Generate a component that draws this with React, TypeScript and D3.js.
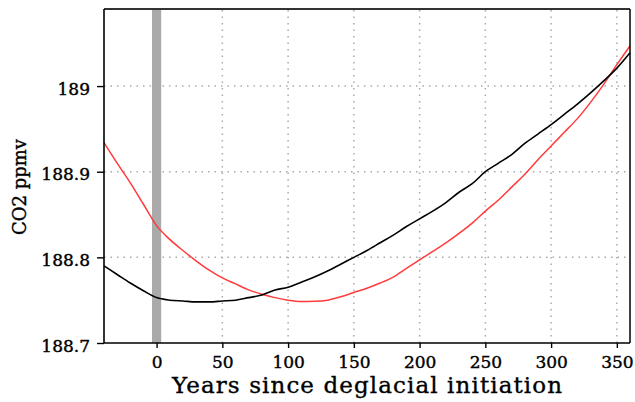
import React, { useEffect, useRef } from 'react';
import * as d3 from 'd3';

// years since deglacial initiation
const years = [-40, -30, -20, -10, 0, 10, 20, 30, 40, 50, 60, 70, 80, 90, 100, 110, 120, 130, 140, 150, 160, 170, 180, 190, 200, 210, 220, 230, 240, 250, 260, 270, 280, 290, 300, 310, 320, 330, 340, 350, 360];

// black curve (CO2 ppmv)
const co2Black = [188.790, 188.780, 188.770, 188.761, 188.753, 188.750, 188.749, 188.748, 188.748, 188.749, 188.750, 188.753, 188.756, 188.762, 188.765, 188.771, 188.777, 188.784, 188.792, 188.800, 188.808, 188.817, 188.826, 188.836, 188.845, 188.854, 188.864, 188.876, 188.886, 188.900, 188.910, 188.920, 188.933, 188.944, 188.955, 188.967, 188.979, 188.992, 189.006, 189.021, 189.039];

// red curve (CO2 ppmv)
const co2Red = [188.934, 188.910, 188.887, 188.862, 188.837, 188.821, 188.808, 188.796, 188.785, 188.776, 188.769, 188.762, 188.757, 188.753, 188.750, 188.7485, 188.7487, 188.750, 188.754, 188.759, 188.764, 188.770, 188.777, 188.787, 188.797, 188.807, 188.817, 188.828, 188.840, 188.854, 188.867, 188.882, 188.897, 188.914, 188.930, 188.946, 188.962, 188.981, 189.002, 189.025, 189.047];

const xTicks = [0, 50, 100, 150, 200, 250, 300, 350];
const yTicks = [188.7, 188.8, 188.9, 189];
const band = [-3.5, 3.5];

const App: React.FC = () => {
  const svgRef = useRef<SVGSVGElement | null>(null);

  useEffect(() => {
    if (!svgRef.current) return;
    const svg = d3.select(svgRef.current);
    svg.selectAll('*').remove();

    const width = 635;
    const height = 402;
    const margin = { top: 9, right: 5, bottom: 59, left: 104 };
    const font = '"DejaVu Serif", serif';

    const x = d3.scaleLinear()
      .domain([-40, 360])
      .range([margin.left, width - margin.right]);
    const y = d3.scaleLinear()
      .domain([188.7, 189.09])
      .range([height - margin.bottom, margin.top]);

    const [x0, x1] = x.range();
    const [yb, yt] = y.range();

    // dotted grid
    const grid = svg.append('g')
      .attr('stroke', '#aaa')
      .attr('stroke-width', 1.5)
      .attr('stroke-dasharray', '1.5,5');
    grid.selectAll('line.v')
      .data(xTicks)
      .join('line')
        .attr('x1', d => x(d)).attr('x2', d => x(d))
        .attr('y1', yb).attr('y2', yt);
    grid.selectAll('line.h')
      .data(yTicks.slice(1))
      .join('line')
        .attr('x1', x0).attr('x2', x1)
        .attr('y1', d => y(d)).attr('y2', d => y(d));

    // deglacial initiation band
    svg.append('rect')
      .attr('x', x(band[0]))
      .attr('y', yt)
      .attr('width', x(band[1]) - x(band[0]))
      .attr('height', yb - yt)
      .attr('fill', '#aaaaaa');

    const line = (vals: number[]) => d3.line<number>()
      .x((_, i) => x(years[i]))
      .y(d => y(d))
      .curve(d3.curveMonotoneX)(vals);

    svg.append('path')
      .attr('d', line(co2Red))
      .attr('fill', 'none')
      .attr('stroke', '#ff3b3b')
      .attr('stroke-width', 1.5);

    svg.append('path')
      .attr('d', line(co2Black))
      .attr('fill', 'none')
      .attr('stroke', '#000')
      .attr('stroke-width', 1.6);

    // frame
    svg.append('line')
      .attr('x1', x0).attr('x2', x1).attr('y1', yt).attr('y2', yt)
      .attr('stroke', '#333').attr('stroke-width', 2);
    svg.append('line')
      .attr('x1', x1).attr('x2', x1).attr('y1', yt).attr('y2', yb)
      .attr('stroke', '#000').attr('stroke-width', 1.5);

    const styleText = (sel: any, size: number) => sel
      .attr('font-family', font)
      .attr('font-size', size)
      .attr('fill', '#000')
      .attr('stroke', '#000')
      .attr('stroke-width', 0.4);

    // axes
    const yAxis = svg.append('g')
      .attr('transform', `translate(${x0},0)`)
      .call(d3.axisLeft(y).tickValues(yTicks).tickSize(7).tickPadding(7)
        .tickFormat(d => d3.format('')(+(+d).toFixed(1))));
    yAxis.select('.domain').attr('stroke-width', 1.6).attr('d', `M0,${yt}V${yb}`);
    yAxis.selectAll('.tick line').attr('stroke-width', 1.4);
    styleText(yAxis.selectAll('text'), 17).attr('dy', '0.48em');

    const xAxis = svg.append('g')
      .attr('transform', `translate(0,${yb})`)
      .call(d3.axisBottom(x).tickValues(xTicks).tickSize(5).tickPadding(0));
    xAxis.select('.domain').attr('stroke-width', 1.6).attr('d', `M${x0},0H${x1}`);
    xAxis.selectAll('.tick line').attr('stroke-width', 1.4);
    styleText(xAxis.selectAll('text'), 17).attr('y', 25).attr('dy', 0);

    styleText(svg.append('text'), 23)
      .attr('x', (x0 + x1) / 2)
      .attr('y', 393)
      .attr('text-anchor', 'middle')
      .attr('textLength', 390)
      .attr('lengthAdjust', 'spacing')
      .attr('stroke-width', 0.35)
      .text('Years since deglacial initiation');

    styleText(svg.append('text'), 18)
      .attr('transform', `translate(26,187) rotate(-90)`)
      .attr('text-anchor', 'middle')
      .attr('textLength', 96)
      .attr('lengthAdjust', 'spacing')
      .text('CO2 ppmv');
  }, []);

  return (
    <svg
      ref={svgRef}
      width={635}
      height={402}
      style={{ position: 'absolute', left: 0, top: 0, background: '#fff' }}
    />
  );
};

export default App;
